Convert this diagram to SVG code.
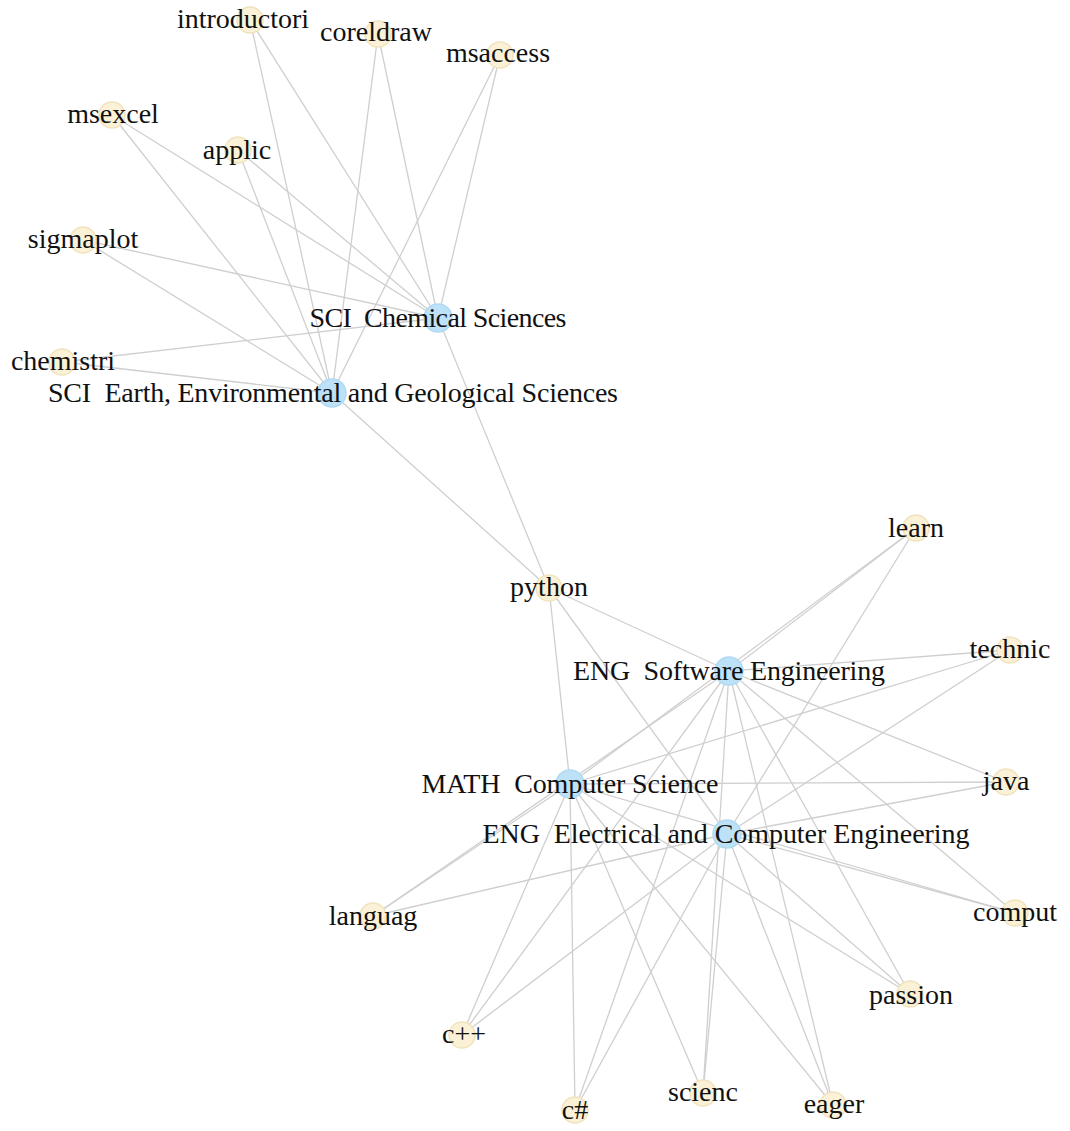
<svg xmlns="http://www.w3.org/2000/svg" width="1070" height="1131" viewBox="0 0 1070 1131">
<style>
.e line{stroke:#cfcfcf;stroke-width:1.3}
.w circle{fill:#fbf1d6;stroke:#f1e3bd;stroke-width:1.5}
.d circle{fill:#bde1f7;stroke:#b0daf3;stroke-width:1.5}
text{font-family:"Liberation Serif","DejaVu Serif",serif;font-size:28px;fill:#111111;text-anchor:middle;white-space:pre}
</style>
<rect width="1070" height="1131" fill="#ffffff"/>
<g class="e" id="connectors">
<line x1="250" y1="20" x2="438" y2="318"/>
<line x1="250" y1="20" x2="332" y2="393"/>
<line x1="378" y1="34" x2="438" y2="318"/>
<line x1="378" y1="34" x2="332" y2="393"/>
<line x1="500" y1="55" x2="438" y2="318"/>
<line x1="500" y1="55" x2="332" y2="393"/>
<line x1="112" y1="115" x2="438" y2="318"/>
<line x1="112" y1="115" x2="332" y2="393"/>
<line x1="238" y1="150" x2="438" y2="318"/>
<line x1="238" y1="150" x2="332" y2="393"/>
<line x1="83" y1="240" x2="438" y2="318"/>
<line x1="83" y1="240" x2="332" y2="393"/>
<line x1="62" y1="362" x2="438" y2="318"/>
<line x1="62" y1="362" x2="332" y2="393"/>
<line x1="438" y1="318" x2="549" y2="588"/>
<line x1="332" y1="393" x2="549" y2="588"/>
<line x1="549" y1="588" x2="729" y2="671"/>
<line x1="549" y1="588" x2="570" y2="784"/>
<line x1="549" y1="588" x2="727" y2="834"/>
<line x1="916" y1="528" x2="729" y2="671"/>
<line x1="916" y1="528" x2="570" y2="784"/>
<line x1="916" y1="528" x2="727" y2="834"/>
<line x1="1010" y1="650" x2="729" y2="671"/>
<line x1="1010" y1="650" x2="570" y2="784"/>
<line x1="1010" y1="650" x2="727" y2="834"/>
<line x1="1006" y1="782" x2="729" y2="671"/>
<line x1="1006" y1="782" x2="570" y2="784"/>
<line x1="1006" y1="782" x2="727" y2="834"/>
<line x1="1015" y1="913" x2="729" y2="671"/>
<line x1="1015" y1="913" x2="570" y2="784"/>
<line x1="1015" y1="913" x2="727" y2="834"/>
<line x1="910" y1="994" x2="729" y2="671"/>
<line x1="910" y1="994" x2="570" y2="784"/>
<line x1="910" y1="994" x2="727" y2="834"/>
<line x1="833" y1="1105" x2="729" y2="671"/>
<line x1="833" y1="1105" x2="570" y2="784"/>
<line x1="833" y1="1105" x2="727" y2="834"/>
<line x1="703" y1="1093" x2="729" y2="671"/>
<line x1="703" y1="1093" x2="570" y2="784"/>
<line x1="703" y1="1093" x2="727" y2="834"/>
<line x1="575" y1="1110" x2="729" y2="671"/>
<line x1="575" y1="1110" x2="570" y2="784"/>
<line x1="575" y1="1110" x2="727" y2="834"/>
<line x1="462" y1="1035" x2="729" y2="671"/>
<line x1="462" y1="1035" x2="570" y2="784"/>
<line x1="462" y1="1035" x2="727" y2="834"/>
<line x1="373" y1="916" x2="729" y2="671"/>
<line x1="373" y1="916" x2="570" y2="784"/>
<line x1="373" y1="916" x2="727" y2="834"/>
</g>
<g id="n-introductori" class="w"><circle cx="250" cy="20" r="13"/><text x="243" y="28">introductori</text></g>
<g id="n-coreldraw" class="w"><circle cx="378" cy="34" r="13"/><text x="376" y="41">coreldraw</text></g>
<g id="n-msaccess" class="w"><circle cx="500" cy="55" r="13"/><text x="498" y="62">msaccess</text></g>
<g id="n-msexcel" class="w"><circle cx="112" cy="115" r="13"/><text x="113" y="123">msexcel</text></g>
<g id="n-applic" class="w"><circle cx="238" cy="150" r="13"/><text x="237" y="159">applic</text></g>
<g id="n-sigmaplot" class="w"><circle cx="83" cy="240" r="13"/><text x="83" y="248">sigmaplot</text></g>
<g id="n-chemistri" class="w"><circle cx="62" cy="362" r="13"/><text x="63" y="370">chemistri</text></g>
<g id="n-python" class="w"><circle cx="549" cy="588" r="13"/><text x="549" y="596">python</text></g>
<g id="n-learn" class="w"><circle cx="916" cy="528" r="13"/><text x="916" y="537">learn</text></g>
<g id="n-technic" class="w"><circle cx="1010" cy="650" r="13"/><text x="1010" y="658">technic</text></g>
<g id="n-java" class="w"><circle cx="1006" cy="782" r="13"/><text x="1006" y="790">java</text></g>
<g id="n-comput" class="w"><circle cx="1015" cy="913" r="13"/><text x="1015" y="921">comput</text></g>
<g id="n-passion" class="w"><circle cx="910" cy="994" r="13"/><text x="911" y="1004">passion</text></g>
<g id="n-languag" class="w"><circle cx="373" cy="916" r="13"/><text x="373" y="925">languag</text></g>
<g id="n-cpp" class="w"><circle cx="462" cy="1035" r="13"/><text x="464" y="1043">c++</text></g>
<g id="n-csharp" class="w"><circle cx="575" cy="1110" r="13"/><text x="575" y="1119">c#</text></g>
<g id="n-scienc" class="w"><circle cx="703" cy="1093" r="13"/><text x="703" y="1101">scienc</text></g>
<g id="n-eager" class="w"><circle cx="833" cy="1105" r="13"/><text x="834" y="1113">eager</text></g>
<g id="n-chem" class="d"><circle cx="438" cy="318" r="14"/><text x="438" y="327" textLength="257">SCI  Chemical Sciences</text></g>
<g id="n-earth" class="d"><circle cx="332" cy="393" r="14"/><text x="333" y="402" textLength="570">SCI  Earth, Environmental and Geological Sciences</text></g>
<g id="n-soft" class="d"><circle cx="729" cy="671" r="14"/><text x="729" y="680" textLength="312">ENG  Software Engineering</text></g>
<g id="n-math" class="d"><circle cx="570" cy="784" r="14"/><text x="570" y="793" textLength="297">MATH  Computer Science</text></g>
<g id="n-elec" class="d"><circle cx="727" cy="834" r="14"/><text x="726" y="843" textLength="487">ENG  Electrical and Computer Engineering</text></g>
</svg>
